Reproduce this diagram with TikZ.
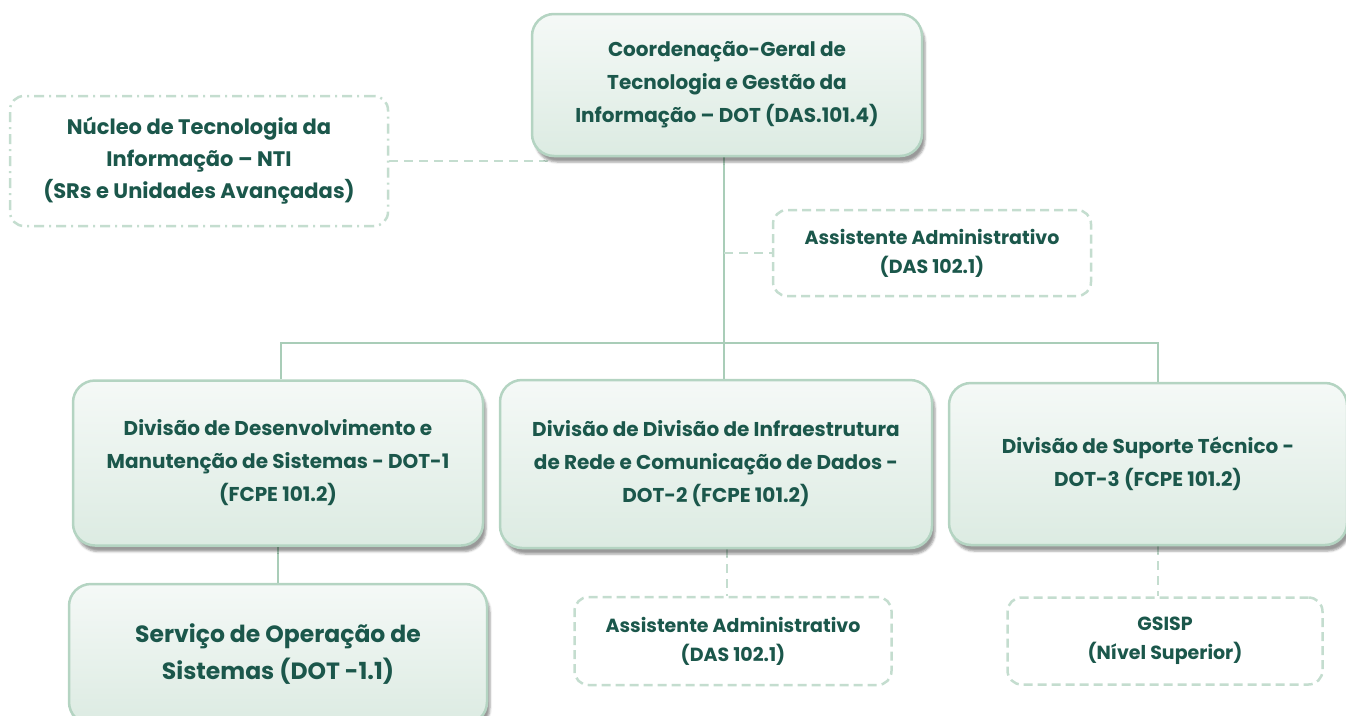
\documentclass[tikz,border=0pt]{standalone}
\usepackage{fontspec}
\setmainfont{Poppins}
\usetikzlibrary{shadows.blur}
\usetikzlibrary{backgrounds}
\definecolor{boxline}{HTML}{B4D4C2}
\definecolor{boxtop}{HTML}{F5F9F7}
\definecolor{boxbot}{HTML}{DCEBE2}
\definecolor{txtgreen}{HTML}{1B574B}
\definecolor{conn}{HTML}{A9CDB8}
\definecolor{dashline}{HTML}{C4DDCF}

\begin{document}
\begin{tikzpicture}[x=1pt,y=-1pt,
unit/.style={rounded corners=22pt, draw=boxline, line width=2.5pt, top color=boxtop, bottom color=boxbot,
  blur shadow={shadow xshift=3pt, shadow yshift=-6pt, shadow opacity=40},
  text=txtgreen, font=\bfseries\fontsize{20}{33}\selectfont, align=center, inner sep=0pt},
aux/.style={rounded corners=14pt, draw=dashline, line width=2.5pt, dash pattern=on 9pt off 5pt, fill=white,
  text=txtgreen, font=\bfseries\fontsize{19}{29}\selectfont, align=center, inner sep=0pt},
link/.style={draw=conn, line width=2.5pt},
auxlink/.style={draw=dashline, line width=2.5pt, dash pattern=on 9pt off 6pt}
]
\useasboundingbox (0,0) rectangle (1346,715);

\node[unit, minimum width=390, minimum height=142] (cg) at (727,85)
  {Coordenação-Geral de\\Tecnologia e Gestão da\\Informação – DOT (DAS.101.4)};
\node[aux, font=\bfseries\fontsize{21}{32}\selectfont, dash pattern=on 10pt off 5pt on 2pt off 5pt,
  minimum width=378, minimum height=130] (nti) at (199,161)
  {Núcleo de Tecnologia da\\Informação – NTI\\(SRs e Unidades Avançadas)};
\node[aux, minimum width=318, minimum height=86] (adm) at (932,253)
  {Assistente Administrativo\\(DAS 102.1)};

\node[unit, minimum width=410, minimum height=165] (dot1) at (278,463)
  {Divisão de Desenvolvimento e\\Manutenção de Sistemas - DOT-1\\(FCPE 101.2)};
\node[unit, minimum width=432, minimum height=168] (dot2) at (716,464)
  {Divisão de Divisão de Infraestrutura\\de Rede e Comunicação de Dados -\\DOT-2 (FCPE 101.2)};
\node[unit, minimum width=398, minimum height=162] (dot3) at (1148,464)
  {Divisão de Suporte Técnico -\\DOT-3 (FCPE 101.2)};

\node[unit, font=\bfseries\fontsize{23.5}{37}\selectfont, minimum width=418, minimum height=140] (sos) at (278,654)
  {Serviço de Operação de\\Sistemas (DOT -1.1)};
\node[aux, minimum width=317, minimum height=88] (adm2) at (733,641)
  {Assistente Administrativo\\(DAS 102.1)};
\node[aux, minimum width=315, minimum height=87] (gsisp) at (1165,641)
  {GSISP\\(Nível Superior)};

\coordinate (bus) at (724,343);
\coordinate (d1) at (281,343);
\coordinate (d2) at (727,343);
\coordinate (d3) at (1158,343);
\coordinate (ntiend) at (548,159);

\begin{scope}[on background layer]
\draw[link] (bus |- cg.south) -- (bus |- dot2.north);
\draw[link] (d1 |- dot1.north) -- (d1) -- (d3) -- (d3 |- dot3.north);
\draw[link] (dot1.south) -- (sos.north);
\draw[auxlink] (bus |- adm.west) -- (adm.west);
\draw[auxlink] (nti.east) -- (nti.east -| ntiend);
\draw[auxlink] (d2 |- dot2.south) -- (d2 |- adm2.north);
\draw[auxlink] (d3 |- dot3.south) -- (d3 |- gsisp.north);
\end{scope}
\end{tikzpicture}
\end{document}
